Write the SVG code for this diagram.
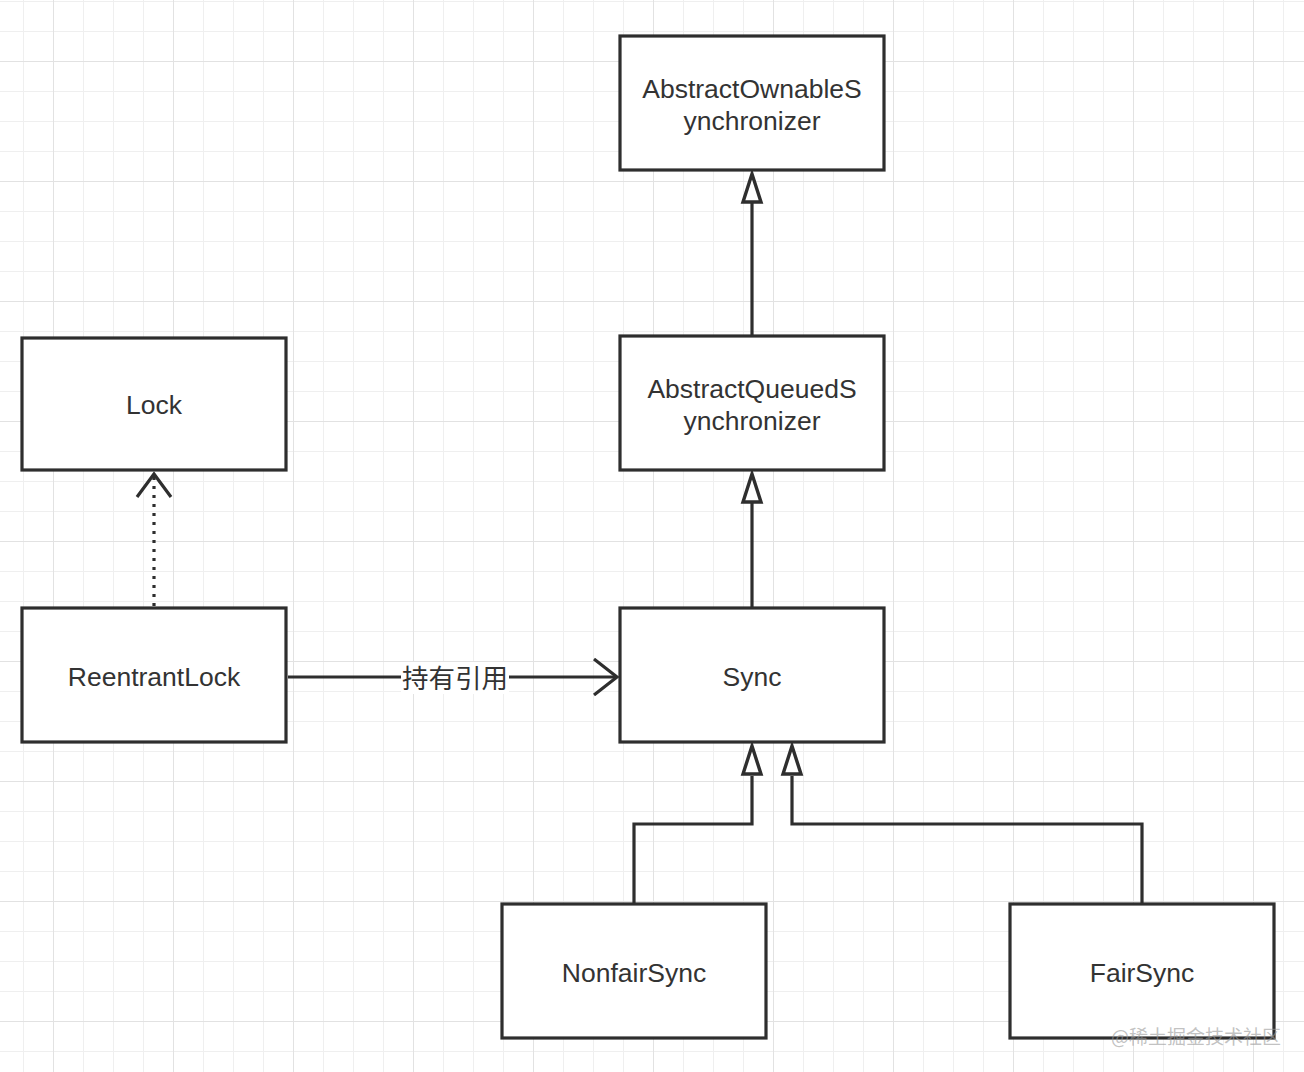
<svg xmlns="http://www.w3.org/2000/svg" width="1304" height="1072" viewBox="0 0 1304 1072">
<defs>
<pattern id="minor" x="23" y="1" width="30" height="30" patternUnits="userSpaceOnUse">
<path d="M0 0V30M0 0H30" fill="none" stroke="#efefef" stroke-width="2"/>
</pattern>
<pattern id="major" x="53" y="61" width="120" height="120" patternUnits="userSpaceOnUse">
<path d="M0 0V120M0 0H120" fill="none" stroke="#e2e2e2" stroke-width="2"/>
</pattern>
</defs>
<style>
.box{fill:#fff;stroke:#2e2e2e;stroke-width:3.2}
.t{font-family:"Liberation Sans","Noto Sans CJK SC",sans-serif;font-size:26.5px;fill:#333;text-anchor:middle;dominant-baseline:central}
.ln{fill:none;stroke:#2e2e2e;stroke-width:3.2}
.head{fill:#fff;stroke:#2e2e2e;stroke-width:3.4;stroke-linejoin:miter}
</style>
<rect width="1304" height="1072" fill="#fff"/>
<rect width="1304" height="1072" fill="url(#minor)"/>
<rect width="1304" height="1072" fill="url(#major)"/>
<g id="connectors">
<path class="ln" d="M752 608V503"/>
<path class="head" d="M752 474L743 502H761Z"/>
<path class="ln" d="M752 336V203"/>
<path class="head" d="M752 174L743 202H761Z"/>
<path class="ln" d="M154 606V474" stroke-dasharray="3 6"/>
<path class="ln" d="M137 497L154 474L171 497"/>
<path class="ln" d="M288 677H616"/>
<path class="ln" d="M594 659L617 677L594 695"/>
<rect x="401" y="662" width="108" height="32" fill="#fff"/>
<text class="t" x="455" y="679">持有引用</text>
<path class="ln" d="M634 904V824H752V776"/>
<path class="head" d="M752 746L743 774H761Z"/>
<path class="ln" d="M1142 904V824H792V776"/>
<path class="head" d="M792 746L783 774H801Z"/>
</g>
<g id="aos"><rect class="box" x="620" y="36" width="264" height="134"/><text class="t" x="752" y="89">AbstractOwnableS</text><text class="t" x="752" y="121">ynchronizer</text></g>
<g id="lock"><rect class="box" x="22" y="338" width="264" height="132"/><text class="t" x="154" y="405">Lock</text></g>
<g id="aqs"><rect class="box" x="620" y="336" width="264" height="134"/><text class="t" x="752" y="389">AbstractQueuedS</text><text class="t" x="752" y="421">ynchronizer</text></g>
<g id="reentrantlock"><rect class="box" x="22" y="608" width="264" height="134"/><text class="t" x="154" y="677">ReentrantLock</text></g>
<g id="sync"><rect class="box" x="620" y="608" width="264" height="134"/><text class="t" x="752" y="677">Sync</text></g>
<g id="nonfairsync"><rect class="box" x="502" y="904" width="264" height="134"/><text class="t" x="634" y="973">NonfairSync</text></g>
<g id="fairsync"><rect class="box" x="1010" y="904" width="264" height="134"/><text class="t" x="1142" y="973">FairSync</text></g>
<text x="1196" y="1035" font-family="'Noto Sans CJK SC',sans-serif" font-size="19" fill="#999" fill-opacity="0.6" text-anchor="middle" dominant-baseline="central">@稀土掘金技术社区</text>
</svg>
